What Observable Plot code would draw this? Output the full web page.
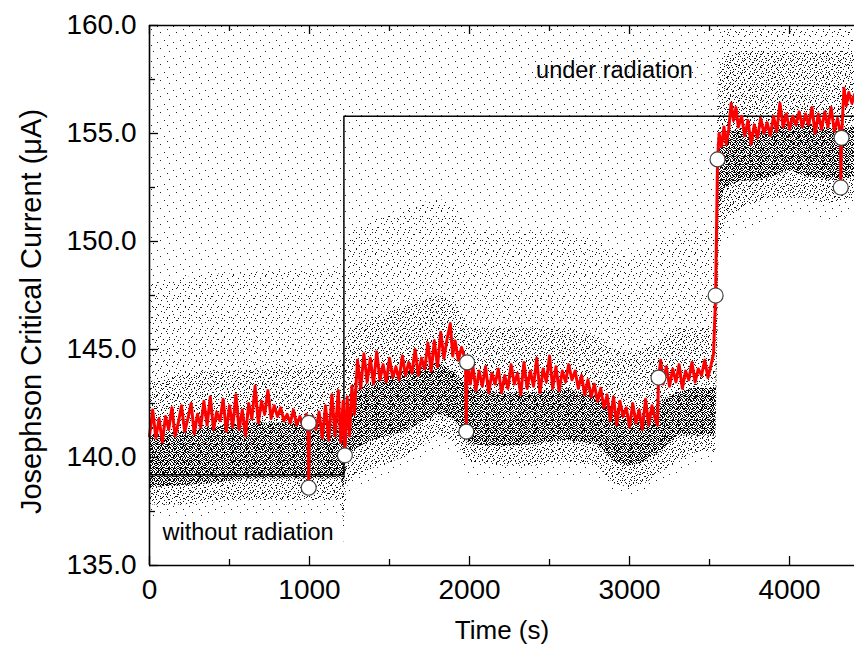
<!DOCTYPE html>
<html><head><meta charset="utf-8">
<script src="https://cdn.jsdelivr.net/npm/d3@7"></script>
<script src="https://cdn.jsdelivr.net/npm/@observablehq/plot@0.6"></script>
<style>body{margin:0;background:#fff;color:#000} svg{display:block}</style>
</head><body><div id="chart"></div>
<script>
// ---- data ----
const xMajorTicks = [0, 1000, 2000, 3000, 4000];
const xMinorTicks = [500, 1500, 2500, 3500];
const yMajorTicks = [135, 140, 145, 150, 155, 160];
const yMinorTicks = [137.5, 142.5, 147.5, 152.5, 157.5];

// red running curve (time s, current µA)
const redTime = [0,20,40,60,80,100,120,140,160,180,200,220,240,260,280,300,320,340,360,380,400,420,440,460,480,500,520,540,560,580,600,620,640,660,680,700,720,740,760,780,800,820,840,860,880,900,920,940,960,980,990,995,1000,
1020,1040,1060,1080,1100,1120,1140,1160,1180,1195,1210,1221,
1235,1250,1265,1280,1300,1320,1340,1360,1380,1400,1420,1440,1460,1480,1500,1520,1540,1560,1580,1600,1620,1640,1660,1680,1700,1720,1740,1760,1780,1800,1820,1840,1860,1880,1895,1910,1930,1950,1975,1980,1985,
2005,2020,2040,2060,2080,2100,2120,2140,2160,2180,2200,2220,2240,2260,2280,2300,2320,2340,2360,2380,2400,2420,2440,2460,2480,2500,2520,2540,2560,2580,2600,2620,2640,2660,2680,2700,2720,2740,2760,2780,2800,2820,2840,2860,2880,2900,2920,2940,2960,2980,3000,3020,3040,3060,3080,3100,3120,3140,3160,3175,3181,
3195,3210,3230,3250,3270,3290,3310,3330,3350,3370,3390,3410,3430,3450,3470,3490,3510,3525,3538,3550,
3560,3575,3590,3605,3620,3635,3650,3665,3680,3700,3720,3740,3760,3780,3800,3820,3840,3860,3880,3900,3920,3940,3960,3980,4000,4020,4040,4060,4080,4100,4120,4140,4160,4180,4200,4220,4240,4260,4280,4300,4318,4320,4325,4340,4355,4370,4390,4406];
const redCurrent = [141.0,142.2,140.9,141.8,140.7,141.9,141.3,142.3,141.0,141.6,142.4,141.2,141.8,142.5,141.1,142.0,141.4,142.6,141.5,142.8,141.3,142.1,141.7,142.7,141.2,142.4,141.4,142.9,141.3,142.2,141.0,142.5,141.8,143.3,141.6,142.6,142.0,143.1,141.8,142.4,141.9,142.3,141.7,142.0,141.6,142.2,141.5,141.9,141.4,142.0,141.6,138.6,141.6,
141.9,141.3,142.1,140.9,142.4,140.8,142.9,141.0,143.1,140.7,142.6,140.1,
142.8,141.0,143.3,142.0,144.5,143.2,144.8,143.5,144.6,143.4,144.9,143.6,144.3,143.5,144.6,143.7,144.2,143.6,144.7,143.8,144.4,143.9,145.0,143.8,144.6,144.1,145.3,144.0,145.4,144.2,145.8,144.6,145.5,146.2,144.7,145.4,144.5,145.1,144.5,141.2,144.4,
143.4,144.3,143.1,144.0,143.3,144.2,143.0,143.9,143.4,144.1,143.0,143.8,143.2,144.3,143.4,143.9,142.9,144.4,143.2,144.0,143.3,144.6,143.0,144.1,143.5,144.7,143.2,144.2,143.1,144.0,143.5,144.3,143.6,144.0,143.2,143.8,142.9,143.6,142.8,143.4,142.6,143.2,142.3,142.9,141.7,142.8,141.5,142.6,141.9,142.3,141.4,142.5,141.6,142.2,141.3,142.7,141.5,142.4,141.8,141.5,143.7,
144.5,143.4,144.2,143.3,144.1,143.5,144.3,143.2,144.0,143.6,144.4,143.5,144.1,143.8,144.5,143.7,144.3,144.8,147.5,153.8,
155.0,154.4,155.3,154.5,155.2,156.4,155.6,156.2,155.3,155.8,154.9,155.6,154.5,155.4,154.8,155.7,155.0,155.5,154.9,155.8,155.1,156.4,155.3,155.9,155.2,155.8,155.4,156.0,155.3,155.9,155.4,156.2,155.0,155.9,155.2,156.0,155.3,156.2,155.1,155.7,155.0,152.5,154.8,157.1,156.3,156.9,156.4,156.8];

// marked points (open circles)
const markTime    = [995, 995, 1221, 1985, 1980, 3181, 3538, 3550, 4325, 4320];
const markCurrent = [141.6, 138.6, 140.1, 144.4, 141.2, 143.7, 147.5, 153.8, 154.8, 152.5];

// black reference step line
const stepTime    = [0, 1215, 1215, 4406];
const stepCurrent = [139.2, 139.2, 155.8, 155.8];

// envelopes of the raw-data point cloud
const cloudTime = [0,200,400,600,800,1000,1200,1215,1230,1260,1400,1600,1800,1900,2000,2200,2400,2600,2800,2900,3000,3100,3200,3300,3400,3540,3560,3600,3700,3800,3900,4000,4100,4200,4300,4406];
const coreLow   = [138.6,138.7,138.8,139.0,139.0,139.0,139.0,138.5,139.8,140.3,140.8,141.2,142.0,141.8,140.6,140.5,140.6,140.8,140.6,139.8,139.6,139.8,140.3,141.0,141.0,141.0,151.5,152.5,152.8,152.8,153.0,153.3,153.0,152.9,152.8,153.0];
const coreHigh  = [141.0,141.2,141.4,141.6,141.6,141.6,141.8,141.5,142.0,143.0,143.5,144.0,144.4,144.0,143.2,143.0,143.0,143.2,142.8,142.3,141.8,141.9,142.6,143.0,143.2,143.2,154.8,155.0,155.2,155.0,155.3,155.5,155.5,155.3,155.2,155.3];
const haloLow   = [137.8,137.8,137.9,138.0,138.0,138.0,138.0,136.8,138.5,139.0,139.5,140.0,141.0,140.8,139.8,139.6,139.6,139.8,139.6,138.8,138.6,138.8,139.3,139.8,140.2,140.3,149.5,151.0,151.5,151.8,152.0,152.0,152.0,151.8,151.8,152.0];
const haloHigh  = [143.5,143.8,144.0,144.0,144.2,144.2,144.3,144.3,145.5,146.0,146.5,147.0,147.5,147.2,146.0,146.0,146.0,146.0,145.6,145.0,144.8,145.0,145.5,146.0,146.0,146.0,158.0,158.5,158.8,158.8,158.8,158.8,158.8,158.8,158.8,158.8];
const lightHigh = [148.0,148.3,148.5,148.5,148.7,148.7,148.8,148.8,150.0,150.5,151.0,151.5,152.0,151.7,150.5,150.5,150.5,150.5,150.0,149.5,149.3,149.5,150.0,150.5,150.5,150.5,160.0,160.0,160.0,160.0,160.0,160.0,160.0,160.0,160.0,160.0];
const sparseLow = [137.2,137.2,137.3,137.4,137.4,137.4,137.4,136.0,138.0,138.4,139.0,139.4,140.5,140.2,139.2,139.0,139.0,139.2,139.0,138.4,138.2,138.3,138.8,139.2,139.6,139.8,148.5,150.0,150.5,150.8,151.0,151.2,151.2,151.0,151.0,151.2];

const annotations = [
  {text: "under radiation", t: 2906, current: 157.9, anchor: "middle"},
  {text: "without radiation", t: 81, current: 136.55, anchor: "start"}
];

const xDomain = [0, 4406];
const yDomain = [135, 160];

// ---- build ----
const red = redTime.map((t, i) => ({t, v: redCurrent[i]}));
const marks = markTime.map((t, i) => ({t, v: markCurrent[i]}));
const step = stepTime.map((t, i) => ({t, v: stepCurrent[i]}));
const cloud = cloudTime.map((t, i) => ({t, coreLow: coreLow[i], coreHigh: coreHigh[i], haloLow: haloLow[i], haloHigh: haloHigh[i], lightHigh: lightHigh[i], sparseLow: sparseLow[i], top: yDomain[1]}));

const W = 854, H = 655, mL = 149, mR = 0, mT = 25, mB = 90;
const plotW = W - mL - mR, plotH = H - mT - mB;
const font = "'Liberation Sans', Arial, Helvetica, sans-serif";

const chart = Plot.plot({
  width: W, height: H,
  marginLeft: mL, marginRight: mR, marginTop: mT, marginBottom: mB,
  style: {fontFamily: font, background: "#fff", color: "#000", overflow: "visible"},
  x: {domain: xDomain},
  y: {domain: yDomain},
  marks: [
    Plot.areaY(cloud, {x: "t", y1: "sparseLow", y2: "top", fill: "url(#stipple-sparse)"}),
    Plot.areaY(cloud, {x: "t", y1: "haloLow", y2: "lightHigh", fill: "url(#stipple-light)"}),
    Plot.areaY(cloud, {x: "t", y1: "haloLow", y2: "haloHigh", fill: "url(#stipple-medium)"}),
    Plot.areaY(cloud, {x: "t", y1: "coreLow", y2: "coreHigh", fill: "url(#stipple-dense)"}),
    Plot.line(step, {x: "t", y: "v", stroke: "#000", strokeWidth: 1.5}),
    Plot.line(red, {x: "t", y: "v", stroke: "#ff0000", strokeWidth: 3}),
    Plot.dot(marks, {x: "t", y: "v", r: 7.5, fill: "#fff", stroke: "#444", strokeWidth: 1.2}),
    // frame (left, top, bottom)
    Plot.ruleX([xDomain[0]], {stroke: "#000", strokeWidth: 1.6}),
    Plot.ruleY(yDomain, {stroke: "#000", strokeWidth: 1.6}),
    // inward ticks
    Plot.tickY(yMajorTicks, {y: d => d, insetRight: plotW - 9, stroke: "#000", strokeWidth: 1.3}),
    Plot.tickY(yMinorTicks, {y: d => d, insetRight: plotW - 6, stroke: "#000", strokeWidth: 1.3}),
    Plot.tickX(xMajorTicks, {x: d => d, insetTop: plotH - 9, stroke: "#000", strokeWidth: 1.3}),
    Plot.tickX(xMinorTicks, {x: d => d, insetTop: plotH - 6, stroke: "#000", strokeWidth: 1.3}),
    Plot.tickX(xMajorTicks, {x: d => d, insetBottom: plotH - 9, stroke: "#000", strokeWidth: 1.3}),
    Plot.tickX(xMinorTicks, {x: d => d, insetBottom: plotH - 6, stroke: "#000", strokeWidth: 1.3}),
    // tick labels
    Plot.axisX(xMajorTicks, {tickSize: 0, tickPadding: 14, fontSize: 28, label: null, tickFormat: d => String(d)}),
    Plot.axisY(yMajorTicks, {tickSize: 0, tickPadding: 13, fontSize: 28, label: null, tickFormat: d => d.toFixed(1)}),
    // axis titles
    Plot.text(["Josephson Critical Current (\u03bcA)"], {frameAnchor: "left", rotate: -90, textAnchor: "middle", dx: -118, dy: 16, fontSize: 29, text: d => d, fill: "#000"}),
    Plot.text(["Time (s)"], {frameAnchor: "bottom", dy: 73, fontSize: 26, text: d => d, fill: "#000"}),
    // annotations
    Plot.text(annotations, {x: "t", y: "current", text: "text", textAnchor: "start", filter: d => d.anchor === "start", fontSize: 23.5, fill: "#000"}),
    Plot.text(annotations, {x: "t", y: "current", text: "text", textAnchor: "middle", filter: d => d.anchor === "middle", fontSize: 23.5, fill: "#000"})
  ]
});

// stipple textures used to render the raw-data cloud
const defs = d3.select(chart).insert("defs", ":first-child");
function addPattern(id, size, pts, color) {
  const p = defs.append("pattern").attr("id", id).attr("patternUnits", "userSpaceOnUse")
    .attr("width", size).attr("height", size);
  p.append("path").attr("d", pts.map(([x, y]) => `M${x},${y}h1v1h-1z`).join(""))
    .attr("fill", color).attr("shape-rendering", "crispEdges");
}
addPattern("stipple-dense", 8, [[0,0],[2,0],[5,0],[7,1],[3,1],[6,2],[1,2],[4,3],[0,3],[2,4],[5,4],[7,4],[3,5],[6,6],[1,6],[4,6],[0,7],[2,7],[5,7],[7,6],[3,3],[6,0],[1,4],[4,1],[0,5],[6,4]], "#000");
addPattern("stipple-medium", 12, [[0,0],[5,1],[9,2],[2,3],[7,4],[11,5],[4,6],[0,7],[8,8],[3,9],[10,10],[6,11],[1,11],[6,5],[10,0]], "#111");
addPattern("stipple-light", 11, [[1,1],[7,3],[4,7],[9,9],[2,10]], "#111");
addPattern("stipple-sparse", 16, [[0,0],[9,3],[4,8],[13,10],[7,13]], "#222");

document.getElementById("chart").appendChild(chart);
</script></body></html>
